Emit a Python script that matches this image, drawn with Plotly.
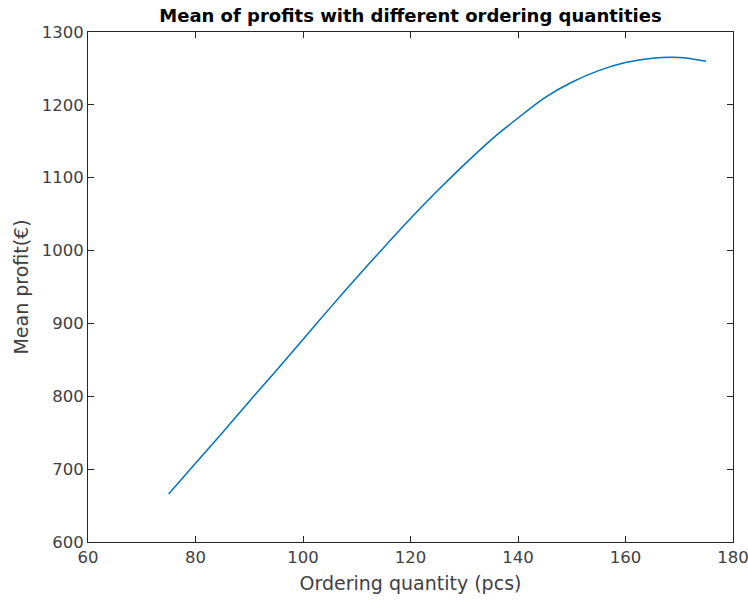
import plotly.graph_objects as go

quantity = [75, 80, 85, 90, 95, 100, 105, 110, 115, 120, 125, 130, 135, 140,
            145, 150, 155, 160, 165, 170, 175]
mean_profit = [666, 708, 750, 793, 835, 878, 921, 963, 1004, 1044, 1082, 1118,
               1152, 1182, 1210, 1231, 1247, 1258, 1264, 1265, 1260]

x_ticks = [60, 80, 100, 120, 140, 160, 180]
y_ticks = [600, 700, 800, 900, 1000, 1100, 1200, 1300]

FONT = "DejaVu Sans"
TXT = "#404040"

fig = go.Figure()
fig.add_trace(go.Scatter(
    x=quantity, y=mean_profit, mode="lines",
    line=dict(color="#0072BD", width=1.5, shape="spline", smoothing=0.8),
    showlegend=False, hoverinfo="x+y"))

axis_common = dict(
    showline=True, linecolor="#262626", linewidth=1, mirror="ticks",
    ticks="inside", ticklen=6, tickcolor="#262626", showgrid=False,
    zeroline=False, automargin=False, ticklabeloverflow="allow",
    tickfont=dict(family=FONT, size=16.5, color=TXT),
)

fig.update_layout(
    width=748, height=607,
    margin=dict(l=88, r=15, t=32, b=65),
    paper_bgcolor="white", plot_bgcolor="white",
    title=dict(text="<b>Mean of profits with different ordering quantities</b>",
               xref="paper", x=0.5, xanchor="center",
               yref="container", y=1 - 16 / 607, yanchor="middle",
               font=dict(family=FONT, size=18, color="black")),
    xaxis=dict(range=[60, 180], tickvals=x_ticks,
               title=dict(text="Ordering quantity (pcs)", standoff=10,
                          font=dict(family=FONT, size=19, color=TXT)),
               **axis_common),
    yaxis=dict(range=[600, 1300], tickvals=y_ticks,
               title=dict(text="Mean profit(€)", standoff=8,
                          font=dict(family=FONT, size=19, color=TXT)),
               **axis_common),
)

fig.write_html("out.html",
               config={"displayModeBar": False},
               post_script="document.body.style.margin='0';")
